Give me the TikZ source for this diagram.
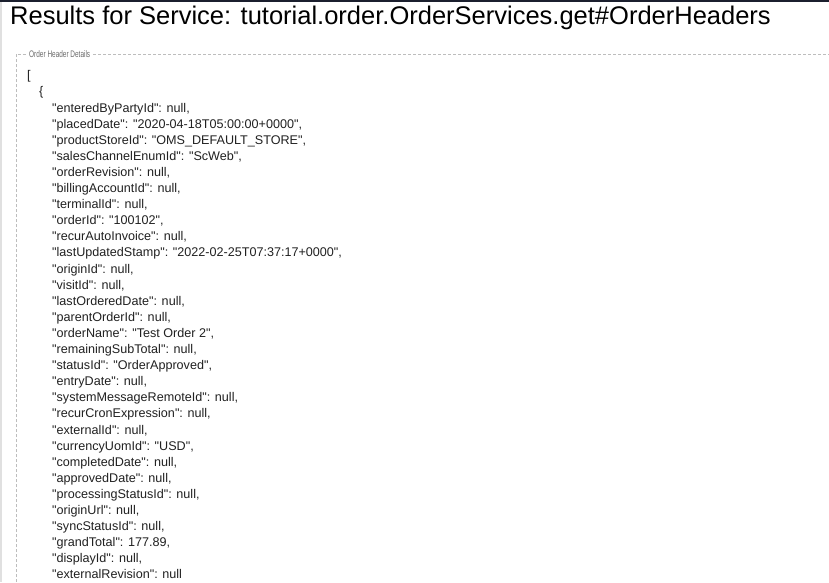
\documentclass[tikz,border=0pt]{standalone}
\usepackage{fontspec}
\setmainfont{Liberation Sans}
\newfontfamily\jf{Liberation Sans}
\definecolor{txt}{HTML}{212121}
\definecolor{dash}{HTML}{BDBDBD}
\definecolor{topbar}{HTML}{1B1F2E}
\definecolor{edge}{HTML}{E0E0E0}
\begin{document}
\begin{tikzpicture}[x=1pt,y=-1pt,
  line/.style={anchor=base west,inner sep=0pt,text=txt,font=\jf\fontsize{12.6}{14}\selectfont},
  fsline/.style={draw=dash,line width=0.8pt,dash pattern=on 3pt off 2pt}]
\useasboundingbox (0,0) rectangle (829,582);
\fill[white] (0,0) rectangle (829,582);
\fill[topbar] (0,0) rectangle (829,1.5);
\fill[edge] (0,1.5) rectangle (2,582);
\node[anchor=base west,inner sep=0pt,text=black,font=\jf\fontsize{25.5}{28}\selectfont] (title) at (10,24) {Results for Service: tutorial.order.OrderServices.get\#OrderHeaders};
% fieldset
\node[anchor=base west,inner sep=0pt,text=gray!85!black,font=\jf\fontsize{9.5}{10}\selectfont] (legend) at (29,57.5) {\scalebox{0.68}[1]{Order Header Details}};
\coordinate (fsbl) at (16,582);
\coordinate (fstl) at (16,54);
\coordinate (fsr) at (829,54);
\draw[fsline] (fsbl) -- (fstl) -- ([xshift=-2pt]legend.west |- fstl);
\draw[fsline] ([xshift=3pt]legend.east |- fstl) -- (fsr);
\node[line] (l0) at (27,79.8) {[};
\node[line] (l1) at (39,95.9) {\{};
\foreach \t [count=\i from 0] in {
{"enteredByPartyId": null,},
{"placedDate": "2020-04-18T05:00:00+0000",},
{"productStoreId": "OMS\_DEFAULT\_STORE",},
{"salesChannelEnumId": "ScWeb",},
{"orderRevision": null,},
{"billingAccountId": null,},
{"terminalId": null,},
{"orderId": "100102",},
{"recurAutoInvoice": null,},
{"lastUpdatedStamp": "2022-02-25T07:37:17+0000",},
{"originId": null,},
{"visitId": null,},
{"lastOrderedDate": null,},
{"parentOrderId": null,},
{"orderName": "Test Order 2",},
{"remainingSubTotal": null,},
{"statusId": "OrderApproved",},
{"entryDate": null,},
{"systemMessageRemoteId": null,},
{"recurCronExpression": null,},
{"externalId": null,},
{"currencyUomId": "USD",},
{"completedDate": null,},
{"approvedDate": null,},
{"processingStatusId": null,},
{"originUrl": null,},
{"syncStatusId": null,},
{"grandTotal": 177.89,},
{"displayId": null,},
{"externalRevision": null}}
  {\node[line] (k\i) at (52,112+16.1*\i) {\t};}
\end{tikzpicture}
\end{document}
